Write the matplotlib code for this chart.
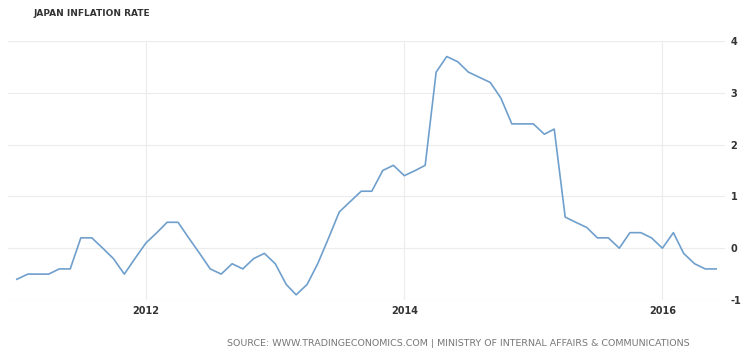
import matplotlib.pyplot as plt
import matplotlib.dates as mdates
import pandas as pd

plt.rcParams["axes.unicode_minus"] = False

# 日本CPI同比 (2011-01 .. 2016-06)
months = pd.date_range("2011-01-01", "2016-06-01", freq="MS")
inflation = [
    -0.6, -0.5, -0.5, -0.5, -0.4, -0.4, 0.2, 0.2, 0.0, -0.2, -0.5, -0.2,
    0.1, 0.3, 0.5, 0.5, 0.2, -0.1, -0.4, -0.5, -0.3, -0.4, -0.2, -0.1,
    -0.3, -0.7, -0.9, -0.7, -0.3, 0.2, 0.7, 0.9, 1.1, 1.1, 1.5, 1.6,
    1.4, 1.5, 1.6, 3.4, 3.7, 3.6, 3.4, 3.3, 3.2, 2.9, 2.4, 2.4,
    2.4, 2.2, 2.3, 0.6, 0.5, 0.4, 0.2, 0.2, 0.0, 0.3, 0.3, 0.2,
    0.0, 0.3, -0.1, -0.3, -0.4, -0.4,
]
year_ticks = ["2012", "2014", "2016"]
y_ticks = [-1, 0, 1, 2, 3, 4]

title = "JAPAN INFLATION RATE"
source = "SOURCE: WWW.TRADINGECONOMICS.COM | MINISTRY OF INTERNAL AFFAIRS & COMMUNICATIONS"

W, H = 750, 359
fig = plt.figure(figsize=(W / 100, H / 100), dpi=100)
ax = fig.add_axes([8 / W, 1 - 300 / H, (725 - 8) / W, (300 - 41) / H])

ax.plot(months, inflation, color="#6f9fcc", linewidth=1.2)

pad = pd.Timedelta(days=25)
ax.set_xlim(months[0] - pad, months[-1] + pad)
ax.set_ylim(-1, 4)

ax.set_xticks([pd.Timestamp(y + "-01-01") for y in year_ticks])
ax.xaxis.set_major_formatter(mdates.DateFormatter("%Y"))
ax.set_yticks(y_ticks)
ax.yaxis.tick_right()

ax.grid(True, color="#ececec", linewidth=0.8)
ax.set_axisbelow(True)
for s in ax.spines.values():
    s.set_visible(False)
ax.tick_params(axis="both", length=0, labelsize=7, labelcolor="#333333")
ax.tick_params(axis="y", pad=4)
ax.tick_params(axis="x", pad=4)
for lbl in ax.get_xticklabels() + ax.get_yticklabels():
    lbl.set_fontweight("bold")

fig.text(33 / W, 1 - 14 / H, title, fontsize=6.5, fontweight="bold",
         color="#333333", va="center", ha="left")
fig.text(690 / W, 1 - 343 / H, source, fontsize=6.8, color="#777777",
         va="center", ha="right")

fig.savefig("out.png", dpi=100)
